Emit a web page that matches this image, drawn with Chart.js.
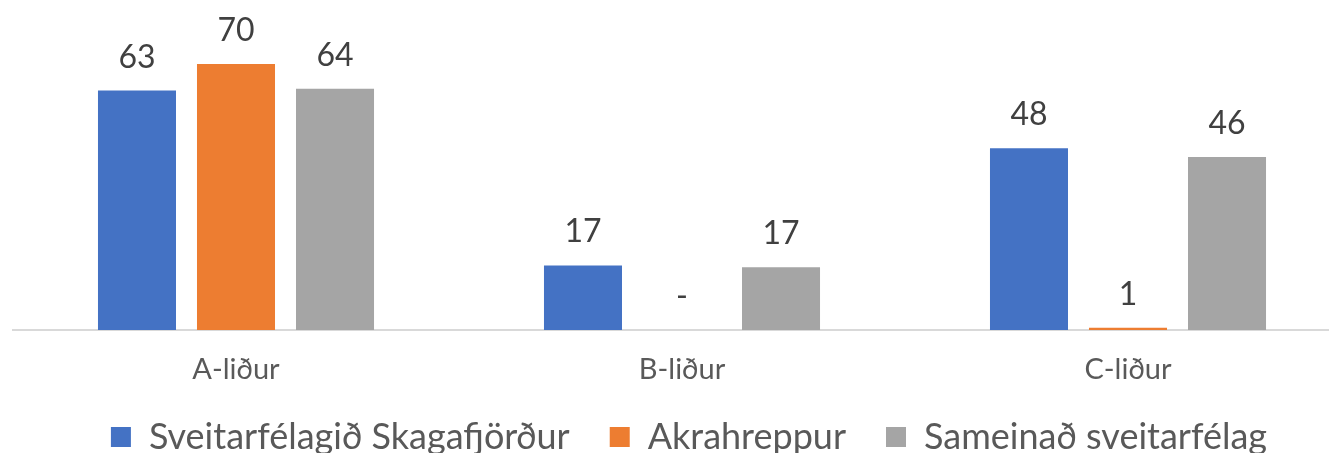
<!DOCTYPE html>
<html>
<head>
<meta charset="utf-8">
<script src="https://cdn.jsdelivr.net/npm/chart.js@4/dist/chart.umd.min.js"></script>
<style>
  html, body { margin: 0; padding: 0; background: #ffffff; overflow: hidden; width: 1329px; height: 453px; }
  #wrap { position: absolute; left: 0; top: 0; width: 1378px; height: 465px; }
</style>
</head>
<body>
<div id="wrap"><canvas id="c" width="1378" height="465"></canvas></div>
<script>
const categories = ["A-liður", "B-liður", "C-liður"];
const seriesNames = ["Sveitarfélagið Skagafjörður", "Akrahreppur", "Sameinað sveitarfélag"];
const skagafjordur = [63.0, 17.0, 47.8];
const akrahreppur = [70.0, 0, 0.6];
const sameinad = [63.5, 16.5, 45.5];
const colors = ["#4472C4", "#ED7D31", "#A5A5A5"];

const FONT = "Lato, 'Open Sans', sans-serif";

const valueLabels = {
  id: "valueLabels",
  afterDatasetsDraw(chart) {
    const ctx = chart.ctx;
    ctx.save();
    ctx.fillStyle = "#404040";
    ctx.font = "32px " + FONT;
    ctx.textAlign = "center";
    ctx.textBaseline = "alphabetic";
    chart.data.datasets.forEach((ds, di) => {
      const meta = chart.getDatasetMeta(di);
      meta.data.forEach((bar, i) => {
        const v = ds.data[i];
        const txt = v === 0 ? "-" : String(Math.round(v));
        ctx.fillText(txt, bar.x, bar.y - 23);
      });
    });
    ctx.restore();
  }
};

const legendShift = {
  id: "legendShift",
  afterLayout(chart) {
    if (chart.legend) {
      chart.legend.left += 7;
      chart.legend.right += 7;
    }
  }
};

new Chart(document.getElementById("c"), {
  type: "bar",
  data: {
    labels: categories,
    datasets: [
      { label: seriesNames[0], data: skagafjordur, backgroundColor: colors[0] },
      { label: seriesNames[1], data: akrahreppur, backgroundColor: colors[1] },
      { label: seriesNames[2], data: sameinad, backgroundColor: colors[2] }
    ]
  },
  options: {
    responsive: false,
    devicePixelRatio: 1,
    animation: false,
    categoryPercentage: 0.666,
    barPercentage: 0.788,
    layout: { padding: { left: 13, right: 27, top: 26, bottom: 0 } },
    plugins: {
      tooltip: { enabled: false },
      legend: {
        position: "bottom",
        labels: {
          boxWidth: 20,
          boxHeight: 20,
          padding: 40,
          color: "#595959",
          font: { family: FONT, size: 36 }
        }
      }
    },
    scales: {
      x: {
        offset: true,
        grid: { display: false, drawTicks: false },
        border: { display: true, color: "#D9D9D9", width: 2 },
        ticks: { color: "#595959", font: { family: FONT, size: 29 }, padding: 22 },
        afterFit(scale) { scale.height = 49; }
      },
      y: {
        display: false,
        min: 0,
        max: 80
      }
    }
  },
  plugins: [valueLabels, legendShift]
});
</script>
</body>
</html>
